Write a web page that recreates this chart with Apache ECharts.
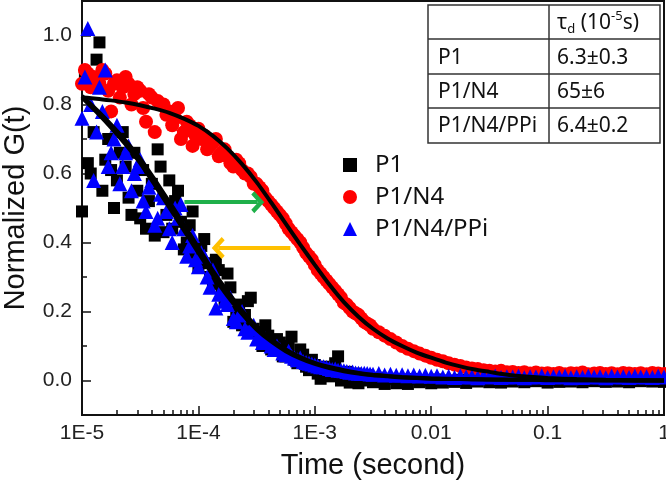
<!DOCTYPE html>
<html>
<head>
<meta charset="utf-8">
<style>
  html,body{margin:0;padding:0;width:100%;height:100%;overflow:hidden;background:#fff;}
</style>
<script src="https://cdn.jsdelivr.net/npm/echarts@6/dist/echarts.min.js"></script>
</head>
<body>
<div id="container" style="width:666px;height:484px;"></div>
<script>
// lag time exponents (t = 10^exp seconds), shared by the three measured curves
var lagExp = [
  -5.00,-4.95,-4.90,-4.85,-4.80,-4.75,-4.70,-4.65,-4.60,-4.55,
  -4.50,-4.45,-4.40,-4.35,-4.30,-4.25,-4.20,-4.15,-4.10,-4.05,
  -4.00,-3.95,-3.90,-3.85,-3.80,-3.75,-3.70,-3.65,-3.60,-3.55,
  -3.50,-3.45,-3.40,-3.35,-3.30,-3.25,-3.20,-3.15,-3.10,-3.05,
  -3.00,-2.95,-2.90,-2.85,-2.80,-2.75,-2.70,-2.65,-2.60,-2.55,
  -2.50,-2.45,-2.40,-2.35,-2.30,-2.25,-2.20,-2.15,-2.10,-2.05,
  -2.00,-1.95,-1.90,-1.85,-1.80,-1.75,-1.70,-1.65,-1.60,-1.55,
  -1.50,-1.45,-1.40,-1.35,-1.30,-1.25,-1.20,-1.15,-1.10,-1.05,
  -1.00,-0.95,-0.90,-0.85,-0.80,-0.75,-0.70,-0.65,-0.60,-0.55,
  -0.50,-0.45,-0.40,-0.35,-0.30,-0.25,-0.20,-0.15,-0.10,-0.05,
  0.00
];
var gP1 = [
  0.49,0.63,0.72,0.98,0.64,0.61,0.58,0.72,0.53,0.66,
  0.47,0.44,0.57,0.67,0.43,0.58,0.52,0.46,0.40,0.49,
  0.33,0.41,0.30,0.35,0.26,0.31,0.17,0.22,0.19,0.24,
  0.14,0.10,0.13,0.09,0.11,0.07,0.127,0.05,0.075,0.03,
  0.045,0.005,0.03,0.02,0.07,0.012,-0.006,0.02,0.0,0.015,
  -0.005,0.008,-0.01,0.005,-0.008,0.003,-0.01,0.004,-0.005,0.0,
  -0.008,0.003,-0.006,0.0,-0.004,0.002,-0.007,0.001,-0.003,0.004,
  -0.005,0.0,-0.006,0.002,-0.003,0.001,-0.005,0.003,-0.002,0.0,
  -0.006,0.002,-0.004,0.001,-0.003,0.003,-0.005,0.0,-0.002,0.002,
  -0.004,0.001,-0.003,0.002,-0.005,0.0,-0.002,0.001,-0.003,0.002,
  -0.004
];
var gP1N4 = [
  0.86,0.89,0.88,0.86,0.89,0.78,0.87,0.85,0.86,0.83,
  0.84,0.75,0.82,0.81,0.80,0.78,0.76,0.70,0.75,0.68,
  0.73,0.71,0.68,0.70,0.66,0.65,0.62,0.63,0.60,0.59,
  0.57,0.55,0.52,0.50,0.48,0.455,0.43,0.41,0.385,0.36,
  0.335,0.31,0.29,0.27,0.25,0.225,0.21,0.195,0.18,0.165,
  0.15,0.14,0.13,0.12,0.11,0.10,0.092,0.085,0.078,0.072,
  0.066,0.06,0.056,0.05,0.046,0.042,0.038,0.035,0.033,0.03,
  0.028,0.026,0.028,0.024,0.025,0.022,0.024,0.02,0.023,0.02,
  0.021,0.019,0.022,0.018,0.021,0.02,0.023,0.018,0.02,0.022,
  0.019,0.021,0.018,0.022,0.02,0.019,0.021,0.018,0.022,0.02,
  0.019
];
var gP1N4PPi = [
  0.76,1.02,0.58,0.85,0.90,0.66,0.74,0.62,0.68,0.60,
  0.64,0.49,0.58,0.47,0.53,0.44,0.50,0.51,0.36,0.42,
  0.33,0.36,0.27,0.21,0.26,0.22,0.18,0.19,0.15,0.15,
  0.12,0.11,0.11,0.09,0.09,0.075,0.07,0.06,0.055,0.05,
  0.045,0.04,0.038,0.032,0.03,0.028,0.024,0.022,0.02,0.02,
  0.018,0.02,0.016,0.018,0.015,0.017,0.014,0.016,0.013,0.015,
  0.012,0.014,0.01,0.012,0.009,0.013,0.01,0.011,0.008,0.012,
  0.01,0.013,0.009,0.011,0.01,0.012,0.008,0.011,0.01,0.013,
  0.009,0.011,0.01,0.012,0.008,0.011,0.009,0.012,0.01,0.011,
  0.008,0.012,0.01,0.011,0.009,0.012,0.01,0.011,0.009,0.012,
  0.01
];

// the in-between lag times of the dense early part of the curves
var lagExpMid = [
  -4.975,-4.925,-4.875,-4.825,-4.775,-4.725,-4.675,-4.625,-4.575,-4.525,
  -4.475,-4.425,-4.375,-4.325,-4.275,-4.225,-4.175,-4.125,-4.075,-4.025,
  -3.975,-3.925,-3.875,-3.825,-3.775,-3.725,-3.675,-3.625,-3.575,-3.525,
  -3.475,-3.425,-3.375,-3.325,-3.275,-3.225,-3.175,-3.125,-3.075,-3.025,
  -2.975,-2.925,-2.875,-2.825,-2.775,-2.725,-2.675,-2.625,-2.575,-2.525
];
var gP1Mid = [
  0.88,0.60,0.93,0.55,0.70,0.50,0.66,0.62,0.48,0.55,
  0.61,0.52,0.42,0.62,0.48,0.44,0.55,0.38,0.45,0.37,
  0.39,0.34,0.28,0.32,0.23,0.27,0.20,0.16,0.23,0.15,
  0.12,0.16,0.09,0.12,0.07,0.10,0.06,0.09,0.04,0.06,
  0.02,0.04,0.012,0.05,0.0,0.025,0.008,-0.008,0.01,0.003
];
var gP1N4Mid = [
  0.90,0.85,0.87,0.90,0.84,0.86,0.82,0.88,0.80,0.85,
  0.79,0.83,0.72,0.80,0.77,0.74,0.79,0.72,0.74,0.71,
  0.70,0.67,0.69,0.65,0.67,0.63,0.64,0.61,0.60,0.57,
  0.56,0.53,0.51,0.49,0.47,0.44,0.42,0.40,0.37,0.35,
  0.32,0.30,0.28,0.26,0.24,0.22,0.20,0.19,0.17,0.16
];
var gP1N4PPiMid = [
  0.88,0.80,0.72,0.78,0.62,0.70,0.57,0.66,0.55,0.62,
  0.52,0.56,0.45,0.54,0.49,0.40,0.47,0.44,0.39,0.35,
  0.37,0.30,0.32,0.25,0.23,0.24,0.17,0.20,0.14,0.16,
  0.13,0.12,0.10,0.10,0.08,0.085,0.065,0.065,0.052,0.048,
  0.042,0.04,0.035,0.033,0.029,0.026,0.025,0.021,0.021,0.019
];

// fitted curves (black lines)
var fitExp = [
  -5.000,-4.875,-4.750,-4.625,-4.500,-4.375,-4.250,-4.125,
  -4.000,-3.875,-3.750,-3.625,-3.500,-3.375,-3.250,-3.125,
  -3.000,-2.875,-2.750,-2.625,-2.500,-2.375,-2.250,-2.125,
  -2.000,-1.875,-1.750,-1.625,-1.500,-1.375,-1.250,-1.125,
  -1.000,-0.750,-0.500,-0.250,0.000
];
var fitP1 = [
  0.820,0.778,0.733,0.684,0.630,0.567,0.502,0.436,
  0.370,0.305,0.245,0.193,0.148,0.113,0.085,0.064,
  0.048,0.036,0.027,0.020,0.015,0.012,0.009,0.007,
  0.005,0.004,0.004,0.003,0.003,0.002,0.002,0.002,
  0.001,0.001,0.000,0.000,0.000
];
var fitP1N4PPi = [
  0.825,0.785,0.742,0.695,0.643,0.582,0.518,0.452,
  0.385,0.318,0.258,0.203,0.157,0.120,0.090,0.068,
  0.051,0.039,0.030,0.022,0.017,0.013,0.010,0.008,
  0.006,0.005,0.004,0.004,0.003,0.003,0.002,0.002,
  0.002,0.001,0.001,0.000,0.000
];
var fitP1N4 = [
  0.820,0.817,0.812,0.806,0.798,0.788,0.776,0.759,
  0.738,0.709,0.672,0.627,0.575,0.516,0.455,0.394,
  0.335,0.278,0.227,0.185,0.150,0.122,0.100,0.081,
  0.066,0.052,0.041,0.032,0.025,0.018,0.013,0.010,
  0.007,0.004,0.002,0.001,0.000
];

var seriesNames = ['P1', 'P1/N4', 'P1/N4/PPi'];
var xTicks = [1e-5, 1e-4, 1e-3, 0.01, 0.1, 1];
var xTickLabels = ['1E-5', '1E-4', '1E-3', '0.01', '0.1', '1'];
var yTicks = [0, 0.2, 0.4, 0.6, 0.8, 1.0];
var yMinorTicks = [0.1, 0.3, 0.5, 0.7, 0.9];

// arrows: [fromExp, toExp, G]
var greenArrow = [-4.12, -3.49, 0.517];
var orangeArrow = [-3.21, -3.83, 0.384];

var tableHead = ['', '{t|τ}{sub|d}{t| (10}{sup|-5}{t|s)}'];
var tableRows = [['P1', '6.3±0.3'], ['P1/N4', '65±6'], ['P1/N4/PPi', '6.4±0.2']];

function pairs(exps, vals) {
  return exps.map(function (e, i) { return [Math.pow(10, e), vals[i]]; });
}

var xMinorTicks = [];
for (var d = -5; d < 0; d++) {
  for (var m = 2; m <= 9; m++) xMinorTicks.push(m * Math.pow(10, d));
}

var chevron = 'path://M10,0 L20,10 L17,13 L10,6 L3,13 L0,10 Z';
var axisFont = "'Liberation Sans', Arial, sans-serif";
var textFont = "'Noto Sans', 'Open Sans', sans-serif";

var dom = document.getElementById('container');
var myChart = echarts.init(dom, null, { renderer: 'canvas' });

function tableGraphic() {
  var L = 428, R = 660, T = 5, B = 143, C = 549;
  var rowLines = [39, 74, 108];
  var rowY = [23, 58, 92, 126];
  var items = [{
    type: 'rect', shape: { x: L, y: T, width: R - L, height: B - T },
    style: { fill: '#fff', stroke: '#333', lineWidth: 1.5 }
  }, {
    type: 'line', shape: { x1: C, y1: T, x2: C, y2: B },
    style: { stroke: '#333', lineWidth: 1.5 }
  }];
  rowLines.forEach(function (y) {
    items.push({ type: 'line', shape: { x1: L, y1: y, x2: R, y2: y }, style: { stroke: '#333', lineWidth: 1.5 } });
  });
  var rows = [tableHead].concat(tableRows);
  rows.forEach(function (r, i) {
    items.push({
      type: 'text', x: 438, y: rowY[i],
      style: { text: r[0], fontSize: 21, fontFamily: textFont, fill: '#111', verticalAlign: 'middle' }
    });
    items.push({
      type: 'text', x: 557, y: rowY[i],
      style: {
        text: r[1], fontSize: 21, fontFamily: textFont, fill: '#111', verticalAlign: 'middle',
        rich: {
          t: { fontSize: 21, fontFamily: textFont, fill: '#111', lineHeight: 26 },
          sub: { fontSize: 13, fontFamily: textFont, fill: '#111', lineHeight: 26, verticalAlign: 'bottom' },
          sup: { fontSize: 13, fontFamily: textFont, fill: '#111', lineHeight: 14, verticalAlign: 'top' }
        }
      }
    });
  });
  return items;
}

function arrowLine(a, color) {
  return {
    silent: true,
    symbol: ['none', chevron],
    symbolSize: [22, 13],
    label: { show: false },
    lineStyle: { color: color, width: 4, type: 'solid' },
    data: [[{ coord: [Math.pow(10, a[0]), a[2]] }, { coord: [Math.pow(10, a[1]), a[2]] }]]
  };
}

function fitSeries(exps, vals, extra) {
  var s = {
    type: 'line', data: pairs(exps, vals), showSymbol: false, smooth: 0.2,
    lineStyle: { color: '#000', width: 4 }, z: 5, silent: true
  };
  for (var k in extra) s[k] = extra[k];
  return s;
}

function scatterSeries(name, symbol, size, color, vals, midVals) {
  return {
    name: name, type: 'scatter', symbol: symbol, symbolSize: size,
    itemStyle: { color: color, opacity: 1 }, z: 2,
    data: pairs(lagExp, vals).concat(pairs(lagExpMid, midVals))
  };
}

var option = {
  animation: false,
  backgroundColor: '#fff',
  grid: {
    left: 82, right: 2, top: 1, bottom: 69, outerBoundsMode: 'none',
    show: true, borderColor: '#111', borderWidth: 2
  },
  legend: {
    data: seriesNames, orient: 'vertical', left: 343, top: 153,
    itemWidth: 14, itemHeight: 14, itemGap: 8, padding: 0,
    textStyle: { fontSize: 24, fontFamily: textFont, color: '#111', padding: [0, 0, 0, 13] }
  },
  xAxis: [{
    type: 'log', logBase: 10, min: 1e-5, max: 1, position: 'bottom',
    name: 'Time (second)', nameLocation: 'middle', nameGap: 36,
    nameTextStyle: { fontSize: 29, fontFamily: axisFont, color: '#111' },
    axisLine: { show: true, onZero: false, lineStyle: { color: '#111', width: 2 } },
    axisTick: { inside: true, length: 9, customValues: xTicks, lineStyle: { color: '#111', width: 1.5 } },
    axisLabel: {
      customValues: xTicks, fontSize: 21, fontFamily: axisFont, color: '#222', margin: 8,
      formatter: function (v) {
        for (var i = 0; i < xTicks.length; i++) {
          if (Math.abs(Math.log10(v) - Math.log10(xTicks[i])) < 1e-6) return xTickLabels[i];
        }
        return '';
      }
    },
    splitLine: { show: false }
  }, {
    type: 'log', logBase: 10, min: 1e-5, max: 1, position: 'bottom',
    axisLine: { show: false, onZero: false },
    axisTick: { inside: true, length: 5, customValues: xMinorTicks, lineStyle: { color: '#111', width: 1.5 } },
    axisLabel: { show: false },
    splitLine: { show: false }
  }],
  yAxis: [{
    type: 'value', min: -0.1, max: 1.1, position: 'left',
    name: 'Normalized G(t)', nameLocation: 'middle', nameGap: 52,
    nameTextStyle: { fontSize: 29, fontFamily: axisFont, color: '#111' },
    axisLine: { show: true, onZero: false, lineStyle: { color: '#111', width: 2 } },
    axisTick: { show: true, inside: true, length: 9, customValues: yTicks, lineStyle: { color: '#111', width: 1.5 } },
    axisLabel: {
      customValues: yTicks, fontSize: 21, fontFamily: axisFont, color: '#222', margin: 10,
      formatter: function (v) { return v.toFixed(1); }
    },
    splitLine: { show: false }
  }, {
    type: 'value', min: -0.1, max: 1.1, position: 'left',
    axisLine: { show: false, onZero: false },
    axisTick: { show: true, inside: true, length: 5, customValues: yMinorTicks, lineStyle: { color: '#111', width: 1.5 } },
    axisLabel: { show: false },
    splitLine: { show: false }
  }],
  series: [
    scatterSeries('P1', 'rect', 12, '#000000', gP1, gP1Mid),
    scatterSeries('P1/N4', 'circle', 14, '#ff0000', gP1N4, gP1N4Mid),
    scatterSeries('P1/N4/PPi', 'triangle', 15, '#0000ff', gP1N4PPi, gP1N4PPiMid),
    fitSeries(fitExp, fitP1, { markLine: arrowLine(orangeArrow, '#ffc000') }),
    fitSeries(fitExp, fitP1N4PPi, {}),
    fitSeries(fitExp, fitP1N4, { markLine: arrowLine(greenArrow, '#1fb04a') })
  ],
  graphic: tableGraphic()
};

myChart.setOption(option);
window.addEventListener('resize', myChart.resize);
</script>
</body>
</html>
